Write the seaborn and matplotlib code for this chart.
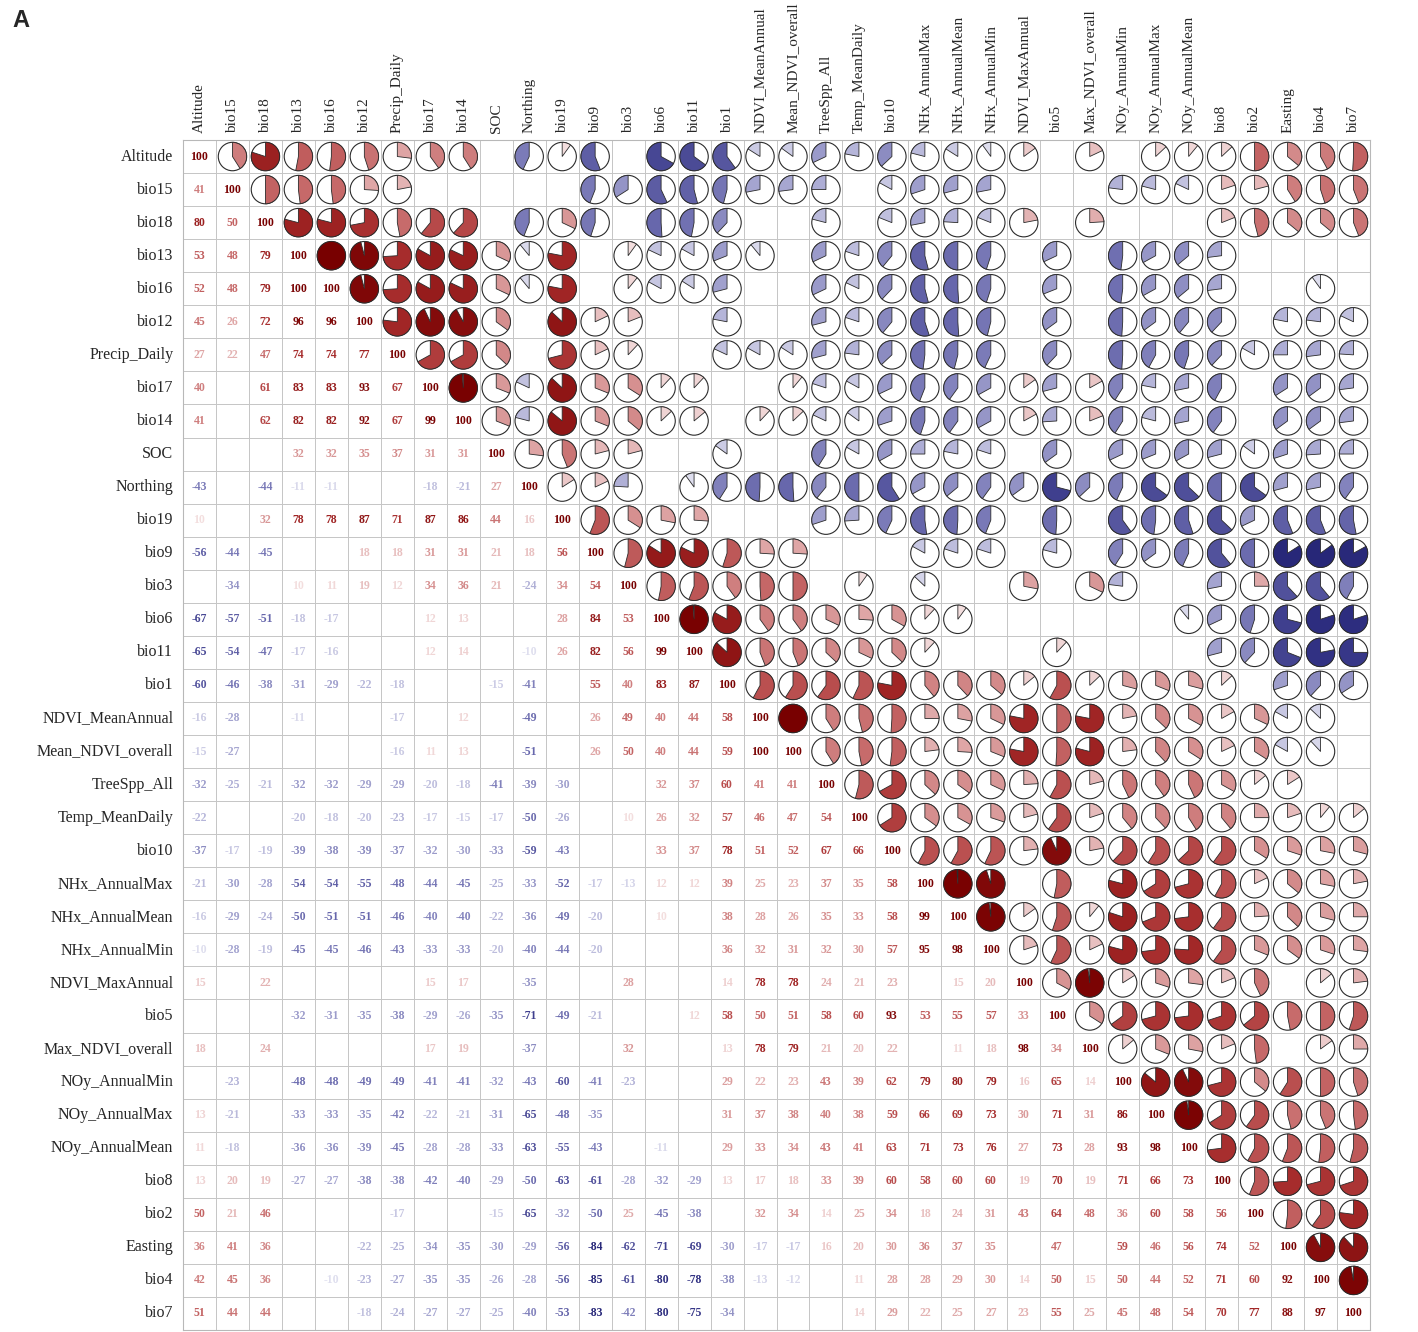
import numpy as np
import pandas as pd
import matplotlib
matplotlib.use('Agg')
import matplotlib.pyplot as plt
import seaborn as sns
from matplotlib.colors import ListedColormap, LinearSegmentedColormap, Normalize
from matplotlib.patches import Circle, Wedge

# variable order (rows and columns)
labels = ['Altitude', 'bio15', 'bio18', 'bio13', 'bio16', 'bio12', 'Precip_Daily',
          'bio17', 'bio14', 'SOC', 'Northing', 'bio19', 'bio9', 'bio3', 'bio6', 'bio11',
          'bio1', 'NDVI_MeanAnnual', 'Mean_NDVI_overall', 'TreeSpp_All', 'Temp_MeanDaily',
          'bio10', 'NHx_AnnualMax', 'NHx_AnnualMean', 'NHx_AnnualMin', 'NDVI_MaxAnnual',
          'bio5', 'Max_NDVI_overall', 'NOy_AnnualMin', 'NOy_AnnualMax', 'NOy_AnnualMean',
          'bio8', 'bio2', 'Easting', 'bio4', 'bio7']

N = None
# lower triangle, correlation x100 (None = not significant / blank)
lower_rows = [
    [100],
    [41, 100],
    [80, 50, 100],
    [53, 48, 79, 100],
    [52, 48, 79, 100, 100],
    [45, 26, 72, 96, 96, 100],
    [27, 22, 47, 74, 74, 77, 100],
    [40, N, 61, 83, 83, 93, 67, 100],
    [41, N, 62, 82, 82, 92, 67, 99, 100],
    [N, N, N, 32, 32, 35, 37, 31, 31, 100],
    [-43, N, -44, -11, -11, N, N, -18, -21, 27, 100],
    [10, N, 32, 78, 78, 87, 71, 87, 86, 44, 16, 100],
    [-56, -44, -45, N, N, 18, 18, 31, 31, 21, 18, 56, 100],
    [N, -34, N, 10, 11, 19, 12, 34, 36, 21, -24, 34, 54, 100],
    [-67, -57, -51, -18, -17, N, N, 12, 13, N, N, 28, 84, 53, 100],
    [-65, -54, -47, -17, -16, N, N, 12, 14, N, -10, 26, 82, 56, 99, 100],
    [-60, -46, -38, -31, -29, -22, -18, N, N, -15, -41, N, 55, 40, 83, 87, 100],
    [-16, -28, N, -11, N, N, -17, N, 12, N, -49, N, 26, 49, 40, 44, 58, 100],
    [-15, -27, N, N, N, N, -16, 11, 13, N, -51, N, 26, 50, 40, 44, 59, 100, 100],
    [-32, -25, -21, -32, -32, -29, -29, -20, -18, -41, -39, -30, N, N, 32, 37, 60, 41, 41, 100],
    [-22, N, N, -20, -18, -20, -23, -17, -15, -17, -50, -26, N, 10, 26, 32, 57, 46, 47, 54, 100],
    [-37, -17, -19, -39, -38, -39, -37, -32, -30, -33, -59, -43, N, N, 33, 37, 78, 51, 52, 67,
     66, 100],
    [-21, -30, -28, -54, -54, -55, -48, -44, -45, -25, -33, -52, -17, -13, 12, 12, 39, 25, 23, 37,
     35, 58, 100],
    [-16, -29, -24, -50, -51, -51, -46, -40, -40, -22, -36, -49, -20, N, 10, N, 38, 28, 26, 35,
     33, 58, 99, 100],
    [-10, -28, -19, -45, -45, -46, -43, -33, -33, -20, -40, -44, -20, N, N, N, 36, 32, 31, 32,
     30, 57, 95, 98, 100],
    [15, N, 22, N, N, N, N, 15, 17, N, -35, N, N, 28, N, N, 14, 78, 78, 24,
     21, 23, N, 15, 20, 100],
    [N, N, N, -32, -31, -35, -38, -29, -26, -35, -71, -49, -21, N, N, 12, 58, 50, 51, 58,
     60, 93, 53, 55, 57, 33, 100],
    [18, N, 24, N, N, N, N, 17, 19, N, -37, N, N, 32, N, N, 13, 78, 79, 21,
     20, 22, N, 11, 18, 98, 34, 100],
    [N, -23, N, -48, -48, -49, -49, -41, -41, -32, -43, -60, -41, -23, N, N, 29, 22, 23, 43,
     39, 62, 79, 80, 79, 16, 65, 14, 100],
    [13, -21, N, -33, -33, -35, -42, -22, -21, -31, -65, -48, -35, N, N, N, 31, 37, 38, 40,
     38, 59, 66, 69, 73, 30, 71, 31, 86, 100],
    [11, -18, N, -36, -36, -39, -45, -28, -28, -33, -63, -55, -43, N, -11, N, 29, 33, 34, 43,
     41, 63, 71, 73, 76, 27, 73, 28, 93, 98, 100],
    [13, 20, 19, -27, -27, -38, -38, -42, -40, -29, -50, -63, -61, -28, -32, -29, 13, 17, 18, 33,
     39, 60, 58, 60, 60, 19, 70, 19, 71, 66, 73, 100],
    [50, 21, 46, N, N, N, -17, N, N, -15, -65, -32, -50, 25, -45, -38, N, 32, 34, 14,
     25, 34, 18, 24, 31, 43, 64, 48, 36, 60, 58, 56, 100],
    [36, 41, 36, N, N, -22, -25, -34, -35, -30, -29, -56, -84, -62, -71, -69, -30, -17, -17, 16,
     20, 30, 36, 37, 35, N, 47, N, 59, 46, 56, 74, 52, 100],
    [42, 45, 36, N, -10, -23, -27, -35, -35, -26, -28, -56, -85, -61, -80, -78, -38, -13, -12, N,
     11, 28, 28, 29, 30, 14, 50, 15, 50, 44, 52, 71, 60, 92, 100],
    [51, 44, 44, N, N, -18, -24, -27, -27, -25, -40, -53, -83, -42, -80, -75, -34, N, N, N,
     14, 29, 22, 25, 27, 23, 55, 25, 45, 48, 54, 70, 77, 88, 97, 100],
]

# build the symmetric matrix
n = len(labels)
corr = np.full((n, n), np.nan)
for i, row in enumerate(lower_rows):
    for j, v in enumerate(row):
        if v is not None:
            corr[i, j] = v / 100
            corr[j, i] = v / 100
df = pd.DataFrame(corr, index=labels, columns=labels)

# colour ramp: navy - white - dark red
cmap = LinearSegmentedColormap.from_list('corr', [
    (0.0, '#16165f'), (0.1, '#2d2d80'), (0.25, '#6a6aae'), (0.375, '#acacd4'),
    (0.5, '#ffffff'), (0.625, '#e0aaaa'), (0.75, '#c46464'), (0.875, '#a52a2a'),
    (1.0, '#780000')])
norm = Normalize(-1, 1)

sns.set_style('white')
plt.rcParams['font.family'] = ['Liberation Serif', 'DejaVu Serif']

fig = plt.figure(figsize=(14.18, 13.32), dpi=100)
ax = fig.add_axes([183 / 1418, 2 / 1332, 1187 / 1418, 1190 / 1332])

# white grid with the labels
sns.heatmap(df.fillna(0), cmap=ListedColormap(['white']), cbar=False,
            linewidths=0.55, linecolor='#c6c6c6', square=False,
            xticklabels=labels, yticklabels=labels, ax=ax)
ax.xaxis.tick_top()
ax.tick_params(length=0)
ax.tick_params(axis='x', pad=5, labelsize=11)
ax.tick_params(axis='y', pad=7, labelsize=11.5)
plt.setp(ax.get_xticklabels(), rotation=90, ha='center', va='bottom')
plt.setp(ax.get_yticklabels(), rotation=0)
for s in ax.spines.values():
    s.set_visible(True)
    s.set_color('#b8b8b8')
    s.set_linewidth(0.8)

R = 0.43
for i in range(n):
    for j in range(n):
        v = corr[i, j]
        if np.isnan(v):
            continue
        c = cmap(norm(v))
        if j <= i:
            # number in lower triangle
            ax.text(j + 0.5, i + 0.5, f'{int(round(v * 100))}', ha='center', va='center',
                    fontsize=8.5, fontweight='bold', color=c)
        else:
            # pie in upper triangle (y axis is inverted)
            ax.add_patch(Circle((j + 0.5, i + 0.5), R, facecolor='white',
                                edgecolor='#2b2b2b', lw=0.8, zorder=3))
            ang = 360 * abs(v)
            if v > 0:
                t1, t2 = -90, -90 + ang
            else:
                t1, t2 = -90 - ang, -90
            ax.add_patch(Wedge((j + 0.5, i + 0.5), R, t1, t2, facecolor=c,
                               edgecolor='#2b2b2b', lw=0.6, zorder=4))

fig.text(0.009, 0.993, 'A', fontsize=17, fontweight='bold', family='Liberation Sans',
         ha='left', va='top')

fig.savefig('out.png', dpi=100)
